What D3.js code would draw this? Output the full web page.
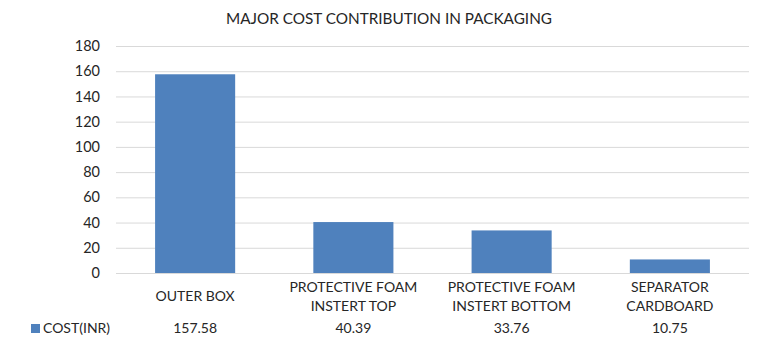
<!DOCTYPE html>
<html>
<head>
<meta charset="utf-8">
<script src="https://cdn.jsdelivr.net/npm/d3@7"></script>
<style>
  body { margin: 0; background: #fff; }
  text { font-family: Lato, "Open Sans", sans-serif; fill: #262626; }
</style>
</head>
<body>
<script>
// chart data
var categories = ["OUTER BOX", "PROTECTIVE FOAM\nINSTERT TOP", "PROTECTIVE FOAM\nINSTERT BOTTOM", "SEPARATOR\nCARDBOARD"];
var costs = [157.58, 40.39, 33.76, 10.75];
var yTicks = [0, 20, 40, 60, 80, 100, 120, 140, 160, 180];
var seriesName = "COST(INR)";

var width = 768,
    height = 345;

var plot = {left: 116, right: 749, top: 46, bottom: 273};

var svg = d3.select("body").append("svg")
    .attr("width", width)
    .attr("height", height);

var x = d3.scaleBand()
    .domain(categories)
    .range([plot.left, plot.right])
    .paddingInner(0.494)
    .paddingOuter(0.247);

var y = d3.scaleLinear()
    .domain([0, 180])
    .range([plot.bottom, plot.top]);

// title
svg.append("text")
    .attr("x", 389)
    .attr("y", 19)
    .attr("dy", "0.35em")
    .attr("text-anchor", "middle")
    .style("font-size", "15.3px")
    .text("MAJOR COST CONTRIBUTION IN PACKAGING");

// gridlines + y labels
var yAxis = svg.append("g")
    .attr("transform", "translate(" + plot.left + ",0)")
    .call(d3.axisLeft(y)
      .tickValues(yTicks)
      .tickSize(-(plot.right - plot.left))
      .tickPadding(16));

yAxis.select(".domain").remove();
yAxis.selectAll("line").attr("stroke", "#d9d9d9");
yAxis.selectAll("text")
    .style("font-size", "14.5px")
    .style("font-family", "Lato, sans-serif")
    .attr("fill", "#262626");

// bars
svg.selectAll("rect.bar")
    .data(costs)
  .enter().append("rect")
    .attr("class", "bar")
    .attr("x", function(d, i) { return x(categories[i]); })
    .attr("y", function(d) { return y(d); })
    .attr("width", x.bandwidth())
    .attr("height", function(d) { return y(0) - y(d); })
    .attr("fill", "#4f81bd");

// category labels
var labels = svg.selectAll("text.cat")
    .data(categories)
  .enter().append("text")
    .attr("class", "cat")
    .attr("text-anchor", "middle")
    .style("font-size", "14px");

labels.each(function(d) {
  var lines = d.split("\n");
  var cx = x(d) + x.bandwidth() / 2;
  var startY = lines.length > 1 ? 287 : 296;
  d3.select(this).selectAll("tspan")
      .data(lines)
    .enter().append("tspan")
      .attr("x", cx)
      .attr("y", function(l, i) { return startY + i * 19; })
      .attr("dy", "0.35em")
      .text(function(l) { return l; });
});

// data table row
svg.append("rect")
    .attr("x", 31)
    .attr("y", 324)
    .attr("width", 9)
    .attr("height", 9)
    .attr("fill", "#4f81bd");

svg.append("text")
    .attr("x", 43)
    .attr("y", 328)
    .attr("dy", "0.35em")
    .style("font-size", "14px")
    .text(seriesName);

svg.selectAll("text.val")
    .data(costs)
  .enter().append("text")
    .attr("class", "val")
    .attr("x", function(d, i) { return x(categories[i]) + x.bandwidth() / 2; })
    .attr("y", 328)
    .attr("dy", "0.35em")
    .attr("text-anchor", "middle")
    .style("font-size", "14px")
    .text(function(d) { return d.toFixed(2); });
</script>
</body>
</html>
